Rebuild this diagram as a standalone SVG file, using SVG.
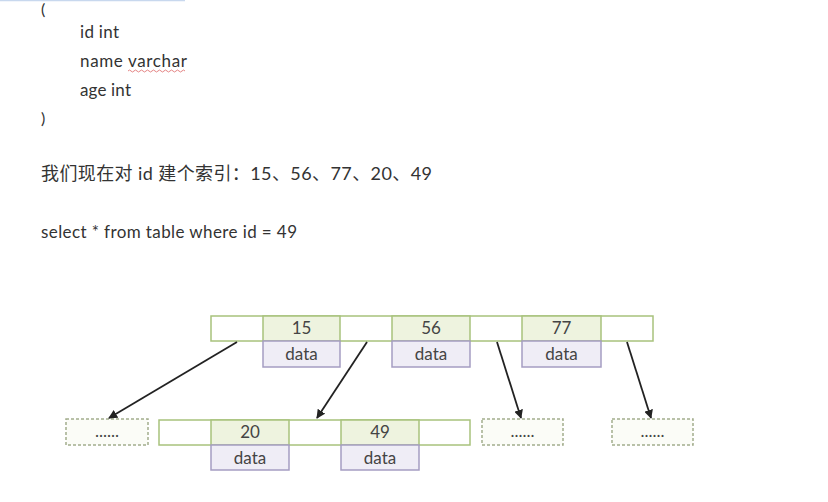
<svg xmlns="http://www.w3.org/2000/svg" width="828" height="502" viewBox="0 0 828 502">
<defs>
<style>
.t{font-family:Lato,"Liberation Sans","Noto Sans CJK SC",sans-serif;fill:#333;}
.k{fill:#eef3df;stroke:#a8c27c;stroke-width:1.5;}
.e{fill:#ffffff;stroke:#a8c27c;stroke-width:1.5;}
.d{fill:#efedf6;stroke:#a59dc2;stroke-width:1.5;}
.dash{fill:#fbfcf7;stroke:#a3ad8d;stroke-width:1.5;stroke-dasharray:3 2;}
.c{font-family:Lato,"Liberation Sans",sans-serif;font-size:17px;fill:#444;text-anchor:middle;}
.a{stroke:#222;stroke-width:1.8;fill:none;marker-end:url(#ah);}
</style>
<marker id="ah" viewBox="0 0 10 10" refX="9" refY="5" markerWidth="9" markerHeight="9" orient="auto" markerUnits="userSpaceOnUse">
<path d="M0,0 L10,5 L0,10 z" fill="#222"/>
</marker>
</defs>
<rect width="828" height="502" fill="#ffffff"/>
<line x1="0" y1="0.5" x2="185" y2="0.5" stroke="#c8d8ee" stroke-width="1.5"/>
<g id="text">
<text class="t" x="41" y="15" font-size="16">(</text>
<text class="t" x="80" y="38" font-size="17" textLength="39">id int</text>
<text class="t" x="80" y="67" font-size="17" textLength="107">name varchar</text>
<path d="M128,71 q1.5,-2 3,0 t3,0 t3,0 t3,0 t3,0 t3,0 t3,0 t3,0 t3,0 t3,0 t3,0 t3,0 t3,0 t3,0 t3,0 t3,0 t3,0 t3,0 t3,0" fill="none" stroke="#d66" stroke-width="0.8"/>
<text class="t" x="80" y="96" font-size="17" textLength="51">age int</text>
<text class="t" x="41" y="124" font-size="16">)</text>
<text class="t" x="41" y="180" font-size="18" textLength="391">我们现在对 id 建个索引：15、56、77、20、49</text>
<text class="t" x="41" y="238" font-size="17" textLength="256">select * from table where id = 49</text>
</g>
<g id="root">
<rect class="e" x="211" y="316" width="442" height="25"/>
<rect class="k" x="263" y="316" width="77" height="25"/>
<rect class="k" x="392" y="316" width="78" height="25"/>
<rect class="k" x="522" y="316" width="79" height="25"/>
<rect class="d" x="263" y="341" width="77" height="26"/>
<rect class="d" x="392" y="341" width="78" height="26"/>
<rect class="d" x="522" y="341" width="79" height="26"/>
<text class="c" x="301.5" y="334">15</text>
<text class="c" x="431" y="334">56</text>
<text class="c" x="561.5" y="334">77</text>
<text class="c" x="301.5" y="360">data</text>
<text class="c" x="431" y="360">data</text>
<text class="c" x="561.5" y="360">data</text>
</g>
<g id="leaf">
<rect class="e" x="159" y="420" width="311" height="25"/>
<rect class="k" x="211" y="420" width="78" height="25"/>
<rect class="k" x="341" y="420" width="78" height="25"/>
<rect class="d" x="211" y="445" width="78" height="25"/>
<rect class="d" x="341" y="445" width="78" height="25"/>
<text class="c" x="250" y="438">20</text>
<text class="c" x="380" y="438">49</text>
<text class="c" x="250" y="464">data</text>
<text class="c" x="380" y="464">data</text>
</g>
<g id="dots1">
<rect class="dash" x="66" y="419" width="82" height="26"/>
<text class="c" x="107" y="437" font-size="12">......</text>
</g>
<g id="dots2">
<rect class="dash" x="482" y="419" width="81" height="26"/>
<text class="c" x="522.5" y="437" font-size="12">......</text>
</g>
<g id="dots3">
<rect class="dash" x="612" y="419" width="81" height="26"/>
<text class="c" x="652.5" y="437" font-size="12">......</text>
</g>
<g id="connectors">
<line class="a" x1="237" y1="342" x2="109" y2="418"/>
<line class="a" x1="367" y1="342" x2="317" y2="418"/>
<line class="a" x1="497" y1="342" x2="521" y2="418"/>
<line class="a" x1="627" y1="342" x2="651" y2="418"/>
</g>
</svg>
